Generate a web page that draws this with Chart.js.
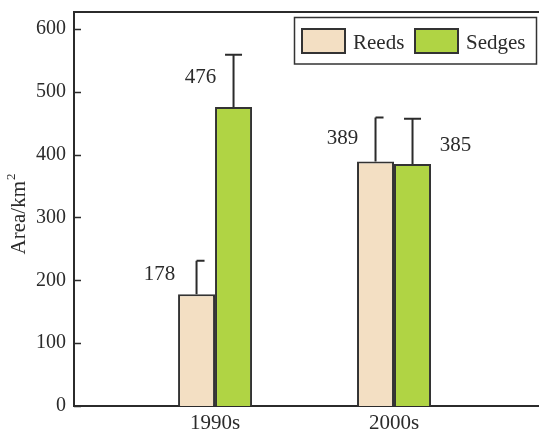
<!DOCTYPE html>
<html>
<head>
<meta charset="utf-8">
<script src="https://cdn.jsdelivr.net/npm/chart.js@4/dist/chart.umd.min.js"></script>
<style>
  html, body { margin: 0; padding: 0; background: #ffffff; }
  #wrap { width: 539px; height: 431px; }
</style>
</head>
<body>
<div id="wrap"><canvas id="chart" width="539" height="431"></canvas></div>
<script>
// Wetland vegetation area by decade
const categories = ['1990s', '2000s'];
const reedsArea = [178, 389];
const sedgesArea = [476, 385];
const reedsError = [53, 70];
const sedgesError = [83, 72];
const yTickValues = [0, 100, 200, 300, 400, 500, 600];
const yTitle = 'Area/km';
const yTitleSup = '2';

const SERIF = "'Liberation Serif', 'Times New Roman', serif";
const INK = '#2b2b2b';

function points(values) {
  return values.map((v, i) => ({ x: i, y: v }));
}

// Error bars (upper whisker only) drawn on top of each bar
const errorBarPlugin = {
  id: 'errorBars',
  afterDatasetsDraw(chart) {
    const ctx = chart.ctx;
    const yScale = chart.scales.y;
    chart.data.datasets.forEach((ds, di) => {
      const meta = chart.getDatasetMeta(di);
      meta.data.forEach((bar, i) => {
        const top = yScale.getPixelForValue(ds.data[i].y + ds.errors[i]);
        ctx.save();
        ctx.strokeStyle = INK;
        ctx.lineWidth = 2;
        ctx.beginPath();
        ctx.moveTo(bar.x, bar.y);
        ctx.lineTo(bar.x, top);
        ctx.moveTo(bar.x - ds.capLeft, top);
        ctx.lineTo(bar.x + ds.capRight, top);
        ctx.stroke();
        ctx.restore();
      });
    });
  }
};

// Value annotations next to each bar
const valueLabelPlugin = {
  id: 'valueLabels',
  afterDatasetsDraw(chart) {
    const ctx = chart.ctx;
    chart.data.datasets.forEach((ds, di) => {
      const meta = chart.getDatasetMeta(di);
      meta.data.forEach((bar, i) => {
        const [dx, dy] = ds.labelOffsets[i];
        ctx.save();
        ctx.fillStyle = INK;
        ctx.font = '21px ' + SERIF;
        ctx.textAlign = 'center';
        ctx.textBaseline = 'alphabetic';
        ctx.fillText(String(ds.data[i].y), bar.x + dx, bar.y + dy + 7);
        ctx.restore();
      });
    });
  }
};

// Frame line on top, inward y ticks, axis title and boxed legend
const framePlugin = {
  id: 'frame',
  afterDraw(chart) {
    const ctx = chart.ctx;
    const area = chart.chartArea;
    const yScale = chart.scales.y;
    ctx.save();
    ctx.strokeStyle = INK;
    ctx.lineWidth = 2;
    ctx.beginPath();
    ctx.moveTo(area.left - 1, area.top);
    ctx.lineTo(area.right, area.top);
    ctx.stroke();

    ctx.lineWidth = 1.5;
    ctx.beginPath();
    yScale.ticks.forEach(t => {
      const y = Math.round(yScale.getPixelForValue(t.value)) + 0.5;
      ctx.moveTo(area.left, y);
      ctx.lineTo(area.left + 7, y);
    });
    ctx.stroke();

    // y-axis title with superscript unit
    ctx.save();
    ctx.fillStyle = INK;
    ctx.textBaseline = 'alphabetic';
    ctx.textAlign = 'left';
    const mainFont = '21px ' + SERIF;
    const supFont = '13px ' + SERIF;
    ctx.font = mainFont;
    const w1 = ctx.measureText(yTitle).width;
    ctx.font = supFont;
    const w2 = ctx.measureText(yTitleSup).width;
    const cy = (area.top + area.bottom) / 2 + 5;
    ctx.translate(25, cy);
    ctx.rotate(-Math.PI / 2);
    const start = -(w1 + w2 + 1) / 2;
    ctx.font = mainFont;
    ctx.fillText(yTitle, start, 0);
    ctx.font = supFont;
    ctx.fillText(yTitleSup, start + w1 + 1, -10);
    ctx.restore();

    // legend box
    ctx.lineWidth = 1.5;
    ctx.strokeStyle = '#333333';
    ctx.fillStyle = '#ffffff';
    ctx.fillRect(294.5, 17.5, 242, 46.5);
    ctx.strokeRect(294.5, 17.5, 242, 46.5);
    const entries = [
      { x: 302, tx: 353 },
      { x: 415, tx: 466 }
    ];
    chart.data.datasets.forEach((ds, di) => {
      const e = entries[di];
      ctx.fillStyle = ds.backgroundColor;
      ctx.fillRect(e.x, 29, 43, 24);
      ctx.strokeStyle = '#333333';
      ctx.lineWidth = 2;
      ctx.strokeRect(e.x, 29, 43, 24);
      ctx.fillStyle = INK;
      ctx.font = '21px ' + SERIF;
      ctx.textAlign = 'left';
      ctx.textBaseline = 'alphabetic';
      ctx.fillText(ds.label, e.tx, 49);
    });
    ctx.restore();
  }
};

new Chart(document.getElementById('chart'), {
  type: 'bar',
  data: {
    datasets: [
      {
        label: 'Reeds',
        data: points(reedsArea),
        errors: reedsError,
        capLeft: 0,
        capRight: 8,
        labelOffsets: [[-37, -21], [-33, -25]],
        backgroundColor: '#f3dfc3',
        borderColor: '#333333',
        borderWidth: 2
      },
      {
        label: 'Sedges',
        data: points(sedgesArea),
        errors: sedgesError,
        capLeft: 8.5,
        capRight: 8.5,
        labelOffsets: [[-33, -31], [43, -20]],
        backgroundColor: '#b0d444',
        borderColor: '#333333',
        borderWidth: 2
      }
    ]
  },
  options: {
    responsive: false,
    animation: false,
    categoryPercentage: 0.4134,
    barPercentage: 1,
    layout: { padding: { top: 12, right: 0, left: 0, bottom: 0 } },
    plugins: {
      legend: { display: false },
      tooltip: { enabled: false }
    },
    scales: {
      x: {
        type: 'linear',
        offset: false,
        min: -0.788,
        max: 1.81,
        afterBuildTicks: scale => {
          scale.ticks = categories.map((c, i) => ({ value: i }));
        },
        afterFit: scale => {
          scale.height = 25;
          scale.paddingLeft = 0;
          scale.paddingRight = 0;
        },
        grid: { display: false, drawTicks: false },
        border: { display: true, color: INK, width: 2 },
        ticks: {
          padding: 5,
          color: INK,
          font: { family: SERIF, size: 21 },
          callback: v => categories[v]
        }
      },
      y: {
        min: 0,
        max: 627,
        afterBuildTicks: scale => {
          scale.ticks = yTickValues.map(v => ({ value: v }));
        },
        afterFit: scale => {
          scale.width = 74;
          scale.paddingTop = 0;
          scale.paddingBottom = 0;
        },
        grid: { display: false, drawTicks: false },
        border: { display: true, color: INK, width: 2 },
        ticks: {
          padding: 8,
          color: INK,
          font: { family: SERIF, size: 20 }
        }
      }
    }
  },
  plugins: [errorBarPlugin, valueLabelPlugin, framePlugin]
});
</script>
</body>
</html>
